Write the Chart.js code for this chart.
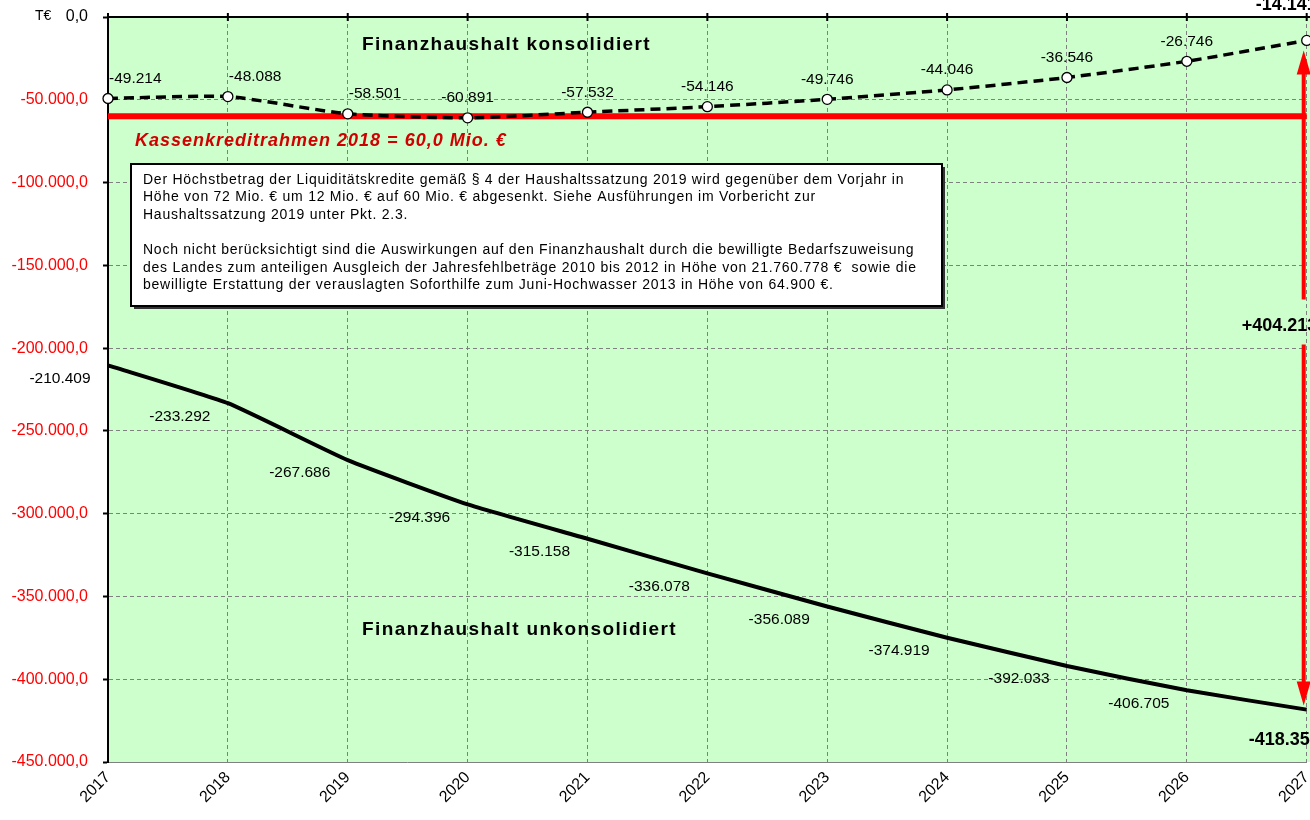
<!DOCTYPE html>
<html lang="de">
<head>
<meta charset="UTF-8">
<title>Finanzhaushalt Liquiditätskredite</title>
<script src="https://cdn.jsdelivr.net/npm/chart.js"></script>
<style>
    html, body { margin: 0; padding: 0; background: #fff; overflow: hidden; }
    #wrap { position: relative; width: 1310px; height: 820px; overflow: hidden; }
</style>
</head>
<body>
<div id="wrap"><canvas id="chart" width="1313" height="820"></canvas></div>
<script>
// Werte in T€
const years = ['2017', '2018', '2019', '2020', '2021', '2022', '2023', '2024', '2025', '2026', '2027'];
const konsolidiert = [-49214, -48088, -58501, -60891, -57532, -54146, -49746, -44046, -36546, -26746, -14141];
const unkonsolidiert = [-210409, -233292, -267686, -294396, -315158, -336078, -356089, -374919, -392033, -406705, -418354];
const kreditrahmen = [-60000, -60000, -60000, -60000, -60000, -60000, -60000, -60000, -60000, -60000, -60000];
const yMin = -450000;
const yMax = 0;
const yStep = 50000;

const boxLines = [
    'Der Höchstbetrag der Liquiditätskredite gemäß § 4 der Haushaltssatzung 2019 wird gegenüber dem Vorjahr in',
    'Höhe von 72 Mio. € um 12 Mio. € auf 60 Mio. € abgesenkt. Siehe Ausführungen im Vorbericht zur',
    'Haushaltssatzung 2019 unter Pkt. 2.3.',
    '',
    'Noch nicht berücksichtigt sind die Auswirkungen auf den Finanzhaushalt durch die bewilligte Bedarfszuweisung',
    'des Landes zum anteiligen Ausgleich der Jahresfehlbeträge 2010 bis 2012 in Höhe von 21.760.778 €  sowie die',
    'bewilligte Erstattung der verauslagten Soforthilfe zum Juni-Hochwasser 2013 in Höhe von 64.900 €.'
];

const FONT = '"Liberation Sans", Arial, sans-serif';

// 1234567 -> "1.234.567"
function groupDe(v) {
    const s = Math.abs(Math.round(v)).toString();
    return (v < 0 ? '-' : '') + s.replace(/\B(?=(\d{3})+(?!\d))/g, '.');
}
function tickDe(v) {
    if (v === 0) return '0,0';
    return groupDe(v) + ',0';
}

// gruener Hintergrund
const bgPlugin = {
    id: 'bg',
    beforeDraw(chart) {
        const a = chart.chartArea, ctx = chart.ctx;
        ctx.save();
        ctx.fillStyle = '#CCFFCC';
        ctx.fillRect(a.left, a.top, chart.width - a.left, a.bottom - a.top);
        ctx.restore();
    }
};

// Beschriftungen, Pfeil, Textfeld
const labelPlugin = {
    id: 'labels',
    afterDatasetsDraw(chart) {
        const ctx = chart.ctx, a = chart.chartArea;
        const y = chart.scales.y, x = chart.scales.x;
        const kMeta = chart.getDatasetMeta(2).data;
        const uMeta = chart.getDatasetMeta(1).data;
        const last = years.length - 1;
        ctx.save();

        // obere Achse (schwarz, mit Strichen)
        ctx.strokeStyle = '#000';
        ctx.lineWidth = 2;
        ctx.beginPath();
        ctx.moveTo(a.left - 1, a.top);
        ctx.lineTo(chart.width, a.top);
        ctx.stroke();
        years.forEach((yr, i) => {
            const px = x.getPixelForValue(i);
            ctx.beginPath();
            ctx.moveTo(px, a.top - 4);
            ctx.lineTo(px, a.top + 4);
            ctx.stroke();
        });

        // T€
        ctx.fillStyle = '#000';
        ctx.font = '14px ' + FONT;
        ctx.textBaseline = 'middle';
        ctx.textAlign = 'left';
        ctx.fillText('T€', 35, a.top - 1);

        // Werte konsolidiert
        ctx.font = '15.5px ' + FONT;
        const kAlign = ['left', 'left', 'left'];
        for (let i = 0; i < last; i++) {
            const p = kMeta[i];
            const al = kAlign[i] || 'center';
            ctx.textAlign = al;
            ctx.fillText(groupDe(konsolidiert[i]), al === 'left' ? p.x + 1 : p.x, p.y - 20);
        }
        // Werte unkonsolidiert
        ctx.textAlign = 'center';
        for (let i = 0; i < last; i++) {
            const p = uMeta[i];
            ctx.fillText(groupDe(unkonsolidiert[i]), p.x - 48, p.y + 13);
        }

        // Endwerte fett
        ctx.font = 'bold 18px ' + FONT;
        ctx.textAlign = 'left';
        const pk = kMeta[last], pu = uMeta[last];
        ctx.fillText(groupDe(konsolidiert[last]), pk.x - 51, pk.y - 35);
        ctx.fillText(groupDe(unkonsolidiert[last]), pu.x - 58, pu.y + 30);

        // Differenzpfeil
        const ax = pk.x - 3;
        const top = pk.y + 10, bot = pu.y - 4;
        const mid = top + (bot - top) * 0.42;
        ctx.fillText('+' + groupDe(konsolidiert[last] - unkonsolidiert[last]), ax - 62, mid);
        ctx.strokeStyle = '#FF0000';
        ctx.fillStyle = '#FF0000';
        ctx.lineWidth = 4;
        ctx.beginPath();
        ctx.moveTo(ax, top + 20); ctx.lineTo(ax, mid - 26);
        ctx.moveTo(ax, mid + 19); ctx.lineTo(ax, bot - 20);
        ctx.stroke();
        ctx.beginPath();
        ctx.moveTo(ax, top); ctx.lineTo(ax - 7, top + 24); ctx.lineTo(ax + 7, top + 24); ctx.closePath();
        ctx.fill();
        ctx.beginPath();
        ctx.moveTo(ax, bot); ctx.lineTo(ax - 7, bot - 24); ctx.lineTo(ax + 7, bot - 24); ctx.closePath();
        ctx.fill();

        // Ueberschriften der Linien
        ctx.fillStyle = '#000';
        ctx.font = 'bold 19px ' + FONT;
        ctx.letterSpacing = '1.4px';
        ctx.textAlign = 'left';
        ctx.fillText('Finanzhaushalt konsolidiert', a.left + 254, a.top + 28);
        ctx.fillText('Finanzhaushalt unkonsolidiert', a.left + 254, 630);

        // Kassenkreditrahmen
        ctx.fillStyle = '#D00000';
        ctx.font = 'italic bold 18px ' + FONT;
        ctx.letterSpacing = '1px';
        ctx.fillText('Kassenkreditrahmen 2018 = 60,0 Mio. €', a.left + 27, y.getPixelForValue(kreditrahmen[0]) + 25);

        // Textfeld
        const bx = 131, by = 164, bw = 811, bh = 142;
        ctx.letterSpacing = '0px';
        ctx.fillStyle = '#333';
        ctx.fillRect(bx + 3, by + 3, bw, bh);
        ctx.fillStyle = '#fff';
        ctx.fillRect(bx, by, bw, bh);
        ctx.strokeStyle = '#000';
        ctx.lineWidth = 2;
        ctx.strokeRect(bx, by, bw, bh);
        ctx.fillStyle = '#000';
        ctx.font = '14px ' + FONT;
        ctx.letterSpacing = '0.75px';
        boxLines.forEach((t, i) => {
            ctx.fillText(t, bx + 12, by + 16 + i * 17.6);
        });
        ctx.restore();
    }
};

new Chart(document.getElementById('chart'), {
    type: 'line',
    data: {
        labels: years,
        datasets: [
            {
                label: 'Kassenkreditrahmen',
                data: kreditrahmen,
                borderColor: '#FF0000',
                borderWidth: 6,
                pointRadius: 0,
                order: 3
            },
            {
                label: 'Finanzhaushalt unkonsolidiert',
                data: unkonsolidiert,
                borderColor: '#000',
                borderWidth: 4,
                pointRadius: 0,
                tension: 0.15,
                order: 2
            },
            {
                label: 'Finanzhaushalt konsolidiert',
                data: konsolidiert,
                borderColor: '#000',
                borderWidth: 3.5,
                borderDash: [10, 6],
                pointRadius: 5,
                pointBackgroundColor: '#fff',
                pointBorderColor: '#000',
                pointBorderWidth: 1.3,
                tension: 0.2,
                order: 1
            }
        ]
    },
    options: {
        responsive: false,
        animation: false,
        layout: { padding: { top: 17, right: 0, left: 0, bottom: 0 } },
        plugins: {
            legend: { display: false },
            tooltip: { enabled: false }
        },
        scales: {
            x: {
                offset: false,
                grid: { color: '#808080', lineWidth: 1, drawTicks: false },
                border: { color: '#808080', width: 1, dash: [4, 3] },
                ticks: {
                    color: '#000',
                    font: { family: FONT, size: 16 },
                    maxRotation: 45,
                    minRotation: 45,
                    padding: 6
                },
                afterFit(scale) {
                    scale.height = 58;
                    scale.paddingLeft = 0;
                    scale.paddingRight = 0;
                }
            },
            y: {
                min: yMin,
                max: yMax,
                grid: { color: '#808080', lineWidth: 1, tickColor: '#000', tickWidth: 2, tickLength: 5, tickBorderDash: [] },
                border: { color: '#000', width: 2, dash: [4, 3] },
                ticks: {
                    stepSize: yStep,
                    padding: 15,
                    font: { family: FONT, size: 16 },
                    color: (c) => (c.tick && c.tick.value === 0 ? '#000' : '#FF0000'),
                    callback: (v) => tickDe(v)
                },
                afterFit(scale) {
                    scale.width = 108;
                    scale.paddingTop = 0;
                    scale.paddingBottom = 0;
                }
            }
        }
    },
    plugins: [bgPlugin, labelPlugin]
});
</script>
</body>
</html>
